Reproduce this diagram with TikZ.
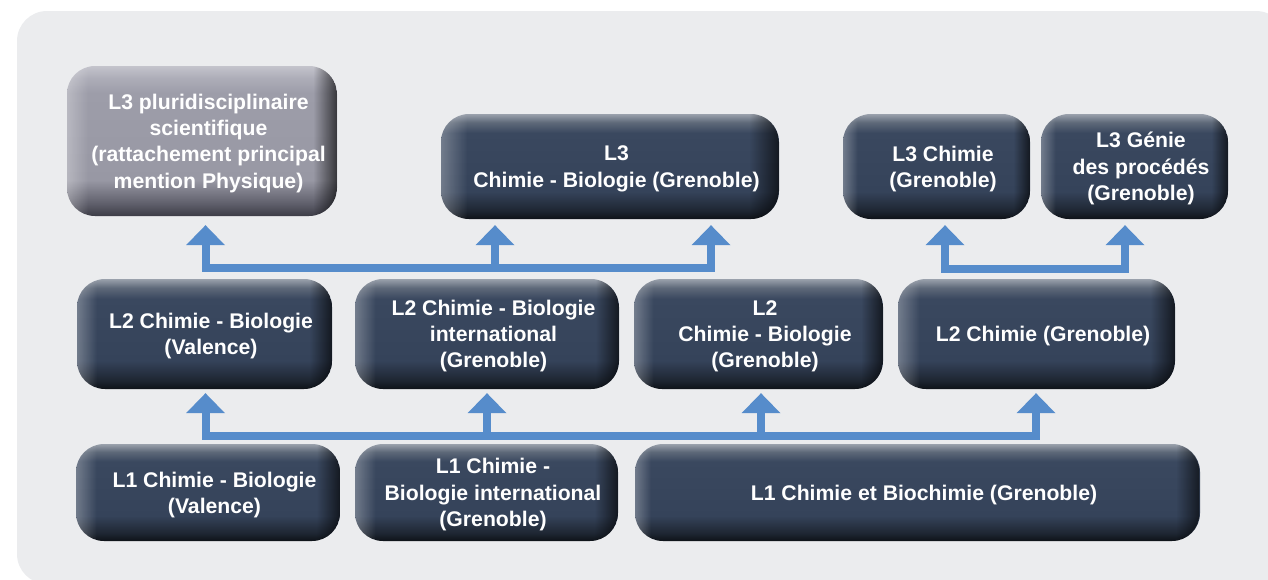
\documentclass[tikz,border=0pt]{standalone}
\usepackage{fontspec}
\setmainfont{Liberation Sans}
\usetikzlibrary{arrows.meta,fadings}
\definecolor{panel}{HTML}{EBECEE}
\definecolor{arrowblue}{HTML}{568CCB}
% dark boxes
\definecolor{dA}{HTML}{0E1218}
\definecolor{dB}{HTML}{1E2632}
\definecolor{dC}{HTML}{35435A}
\definecolor{dD}{HTML}{3A485F}
\definecolor{dE}{HTML}{5E6979}
\definecolor{dF}{HTML}{9AA1AC}
% gray box
\definecolor{gA}{HTML}{3C3C46}
\definecolor{gB}{HTML}{5E5E6A}
\definecolor{gC}{HTML}{9898A4}
\definecolor{gD}{HTML}{9D9DA9}
\definecolor{gE}{HTML}{ADADB8}
\definecolor{gF}{HTML}{C4C4CC}
% fading levels
\definecolor{fzero}{gray}{0}
\definecolor{fdark}{gray}{0.66}
\definecolor{flight}{gray}{0.30}
\pgfdeclareverticalshading{darkv}{100bp}{color(0bp)=(dA); color(25bp)=(dA); color(29bp)=(dB); color(38bp)=(dC); color(66bp)=(dD); color(71bp)=(dE); color(75bp)=(dF); color(100bp)=(dF)}
\pgfdeclareverticalshading{grayv}{100bp}{color(0bp)=(gA); color(25bp)=(gA); color(29bp)=(gB); color(37bp)=(gC); color(66bp)=(gD); color(71bp)=(gE); color(75bp)=(gF); color(100bp)=(gF)}
\pgfdeclarehorizontalshading{shR}{100bp}{color(0bp)=(fzero); color(70.5bp)=(fzero); color(75bp)=(fdark); color(100bp)=(fdark)}
\pgfdeclarehorizontalshading{shRw}{100bp}{color(0bp)=(fzero); color(72.8bp)=(fzero); color(75bp)=(fdark); color(100bp)=(fdark)}
\pgfdeclarehorizontalshading{shL}{100bp}{color(0bp)=(flight); color(25bp)=(flight); color(29bp)=(fzero); color(100bp)=(fzero)}
\pgfdeclarehorizontalshading{shLw}{100bp}{color(0bp)=(flight); color(25bp)=(flight); color(26.5bp)=(fzero); color(100bp)=(fzero)}
\tikzfading[name=fadeR, shading=shR]
\tikzfading[name=fadeRw, shading=shRw]
\tikzfading[name=fadeL, shading=shL]
\tikzfading[name=fadeLw, shading=shLw]
\begin{document}
\begin{tikzpicture}[x=1pt,y=-1pt,
  boxbase/.style={rectangle, rounded corners=28pt, inner sep=0pt},
  boxtext/.style={inner sep=0pt, align=center, text depth=0pt, xshift=6.5pt,
    text=white, font=\bfseries\fontsize{21.2}{26.3}\selectfont},
  edges/.style 2 args={path picture={
      \fill[black, path fading=#1] (path picture bounding box.south west) rectangle (path picture bounding box.north east);
      \fill[white, path fading=#2] (path picture bounding box.south west) rectangle (path picture bounding box.north east);}},
  darkbox/.style={boxbase, shade, shading=darkv, edges={fadeR}{fadeL}},
  widebox/.style={boxbase, shade, shading=darkv, edges={fadeRw}{fadeLw}},
  graybox/.style={boxbase, shade, shading=grayv, edges={fadeR}{fadeL}},
  bus/.style={draw=arrowblue, line width=8pt, line cap=rect},
  arr/.style={draw=arrowblue, line width=8pt,
    -{Triangle[width=39pt,length=20pt,line width=0pt]}},
]
\useasboundingbox (0,0) rectangle (1268,579);
\fill[panel, rounded corners=30pt] (17,11) rectangle (1286,584);

% L3 row
\node[graybox, minimum width=270pt, minimum height=150pt,
  label={[boxtext]center:{L3 pluridisciplinaire\\scientifique\\(rattachement principal\\mention Physique)}}] (L3p) at (202,141) {};
\node[darkbox, minimum width=338pt, minimum height=105pt,
  label={[boxtext]center:{L3\\Chimie - Biologie (Grenoble)}}] (L3cb) at (610,166.5) {};
\node[darkbox, minimum width=187pt, minimum height=105pt,
  label={[boxtext]center:{L3 Chimie\\(Grenoble)}}] (L3c) at (936.5,166.5) {};
\node[darkbox, minimum width=187pt, minimum height=105pt,
  label={[boxtext]center:{L3 Génie\\des procédés\\(Grenoble)}}] (L3g) at (1134.5,166.5) {};

% L2 row
\node[darkbox, minimum width=255pt, minimum height=110pt,
  label={[boxtext]center:{L2 Chimie - Biologie\\(Valence)}}] (L2v) at (204.5,334) {};
\node[darkbox, minimum width=264pt, minimum height=110pt,
  label={[boxtext]center:{L2 Chimie - Biologie\\international\\(Grenoble)}}] (L2i) at (487,334) {};
\node[darkbox, minimum width=249pt, minimum height=110pt,
  label={[boxtext]center:{L2\\Chimie - Biologie\\(Grenoble)}}] (L2cb) at (758.5,334) {};
\node[darkbox, minimum width=277pt, minimum height=110pt,
  label={[boxtext]center:{L2 Chimie (Grenoble)}}] (L2c) at (1036.5,334) {};

% L1 row
\node[darkbox, minimum width=264pt, minimum height=97pt,
  label={[boxtext]center:{L1 Chimie - Biologie\\(Valence)}}] (L1v) at (208,492.5) {};
\node[darkbox, minimum width=263pt, minimum height=97pt,
  label={[boxtext]center:{L1 Chimie -\\Biologie international\\(Grenoble)}}] (L1i) at (486.5,492.5) {};
\node[widebox, minimum width=565pt, minimum height=97pt,
  label={[boxtext]center:{L1 Chimie et Biochimie (Grenoble)}}] (L1cb) at (917.5,492.5) {};

% top-left bus
\coordinate (t1) at (205.5,267.5);
\coordinate (t2) at (495,267.5);
\coordinate (t3) at (711,267.5);
\draw[bus] (t1) -- (t3);
\draw[arr, shorten >=9pt] (t1) -- (t1 |- L3p.south);
\draw[arr, shorten >=6pt] (t2) -- (t2 |- L3cb.south);
\draw[arr, shorten >=6pt] (t3) -- (t3 |- L3cb.south);

% top-right bus
\coordinate (r1) at (945,268.5);
\coordinate (r2) at (1125,268.5);
\draw[bus] (r1) -- (r2);
\draw[arr, shorten >=6pt] (r1) -- (r1 |- L3c.south);
\draw[arr, shorten >=6pt] (r2) -- (r2 |- L3g.south);

% bottom bus
\coordinate (b1) at (205.5,436);
\coordinate (b2) at (487,436);
\coordinate (b3) at (761,436);
\coordinate (b4) at (1036,436);
\draw[bus] (b1) -- (b4);
\draw[arr, shorten >=4pt] (b1) -- (b1 |- L2v.south);
\draw[arr, shorten >=4pt] (b2) -- (b2 |- L2i.south);
\draw[arr, shorten >=4pt] (b3) -- (b3 |- L2cb.south);
\draw[arr, shorten >=4pt] (b4) -- (b4 |- L2c.south);
\end{tikzpicture}
\end{document}
